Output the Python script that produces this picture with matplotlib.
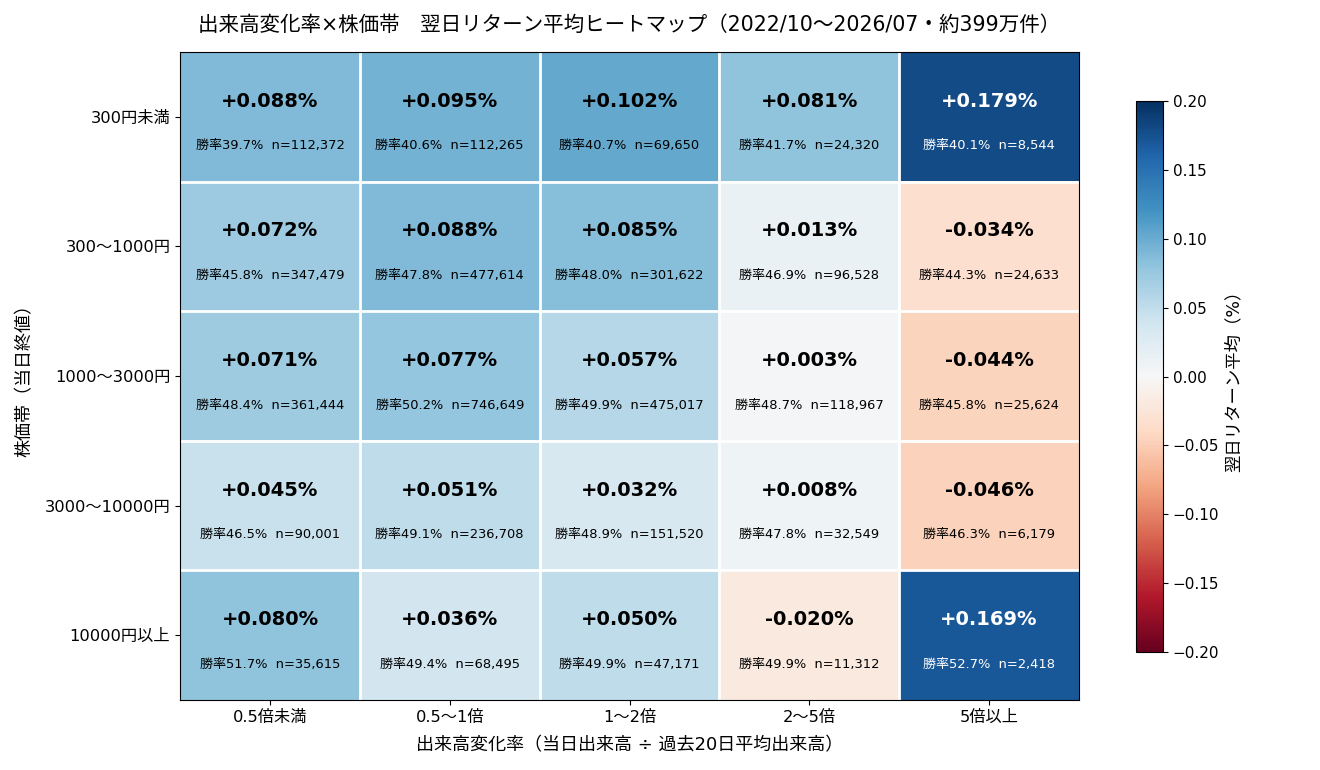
import matplotlib
matplotlib.use('Agg')
import matplotlib.pyplot as plt
import numpy as np

plt.rcParams['font.family'] = ['DejaVu Sans', 'Noto Sans CJK JP']

price_bands = ['300円未満', '300～1000円', '1000～3000円', '3000～10000円', '10000円以上']
vol_bands = ['0.5倍未満', '0.5～1倍', '1～2倍', '2～5倍', '5倍以上']

mean_ret = np.array([
    [0.088, 0.095, 0.102, 0.081, 0.179],
    [0.072, 0.088, 0.085, 0.013, -0.034],
    [0.071, 0.077, 0.057, 0.003, -0.044],
    [0.045, 0.051, 0.032, 0.008, -0.046],
    [0.080, 0.036, 0.050, -0.020, 0.169],
])
win_rate = np.array([
    [39.7, 40.6, 40.7, 41.7, 40.1],
    [45.8, 47.8, 48.0, 46.9, 44.3],
    [48.4, 50.2, 49.9, 48.7, 45.8],
    [46.5, 49.1, 48.9, 47.8, 46.3],
    [51.7, 49.4, 49.9, 49.9, 52.7],
])
counts = np.array([
    [112372, 112265, 69650, 24320, 8544],
    [347479, 477614, 301622, 96528, 24633],
    [361444, 746649, 475017, 118967, 25624],
    [90001, 236708, 151520, 32549, 6179],
    [35615, 68495, 47171, 11312, 2418],
])

fig = plt.figure(figsize=(13.2, 7.7), dpi=100)
ax = fig.add_axes([0.1364, 0.0909, 0.6810, 0.8416])
cax = fig.add_axes([0.8606, 0.1532, 0.0205, 0.7156])

im = ax.imshow(mean_ret, cmap='RdBu', vmin=-0.2, vmax=0.2, aspect='auto')

# white separators between cells
for i in range(1, len(price_bands)):
    ax.axhline(i - 0.5, color='white', linewidth=2)
for j in range(1, len(vol_bands)):
    ax.axvline(j - 0.5, color='white', linewidth=2)

for i in range(len(price_bands)):
    for j in range(len(vol_bands)):
        v = mean_ret[i, j]
        c = 'white' if abs(v) > 0.12 else 'black'
        ax.text(j, i - 0.12, f'{v:+.3f}%', ha='center', va='center',
                fontsize=14, fontweight='bold', color=c)
        ax.text(j, i + 0.225, f'勝率{win_rate[i, j]:.1f}%  n={counts[i, j]:,}',
                ha='center', va='center', fontsize=9.4, color=c)

ax.set_xticks(range(len(vol_bands)))
ax.set_xticklabels(vol_bands, fontsize=11.7)
ax.set_yticks(range(len(price_bands)))
ax.set_yticklabels(price_bands, fontsize=11.7)
ax.set_xlabel('出来高変化率（当日出来高 ÷ 過去20日平均出来高）', fontsize=13, labelpad=8)
ax.set_ylabel('株価帯（当日終値）', fontsize=13, labelpad=8)
ax.set_title('出来高変化率×株価帯　翌日リターン平均ヒートマップ（2022/10～2026/07・約399万件）',
             fontsize=14.8, pad=15)

cb = fig.colorbar(im, cax=cax)
cb.set_ticks(np.arange(-0.2, 0.21, 0.05))
cb.ax.tick_params(labelsize=11)
cb.set_label('翌日リターン平均（%）', fontsize=12.5)

fig.savefig('out.png', dpi=100)
